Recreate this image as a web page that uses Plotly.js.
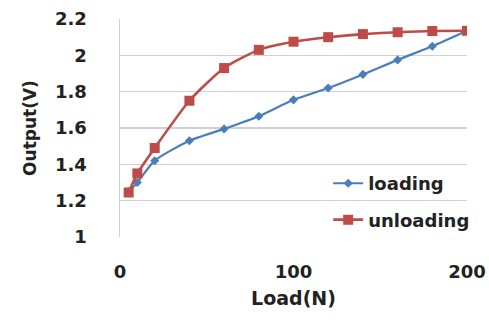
<!DOCTYPE html>
<html>
<head>
<meta charset="utf-8">
<script src="https://cdn.plot.ly/plotly-3.0.1.min.js"></script>
<style>html,body{margin:0;padding:0;background:#fff;}#chart{width:489px;height:320px;}</style>
</head>
<body>
<div id="chart"></div>
<script>
const load = [5, 10, 20, 40, 60, 80, 100, 120, 140, 160, 180, 200];
const loading = [1.25, 1.30, 1.42, 1.53, 1.595, 1.665, 1.755, 1.82, 1.895, 1.975, 2.05, 2.135];
const unloading = [1.245, 1.35, 1.49, 1.75, 1.93, 2.03, 2.075, 2.10, 2.117, 2.127, 2.134, 2.135];
const xTicks = [0, 100, 200];
const yTicks = [1, 1.2, 1.4, 1.6, 1.8, 2, 2.2];
const yTickText = ['1', '1.2', '1.4', '1.6', '1.8', '2', '2.2'];

const bold = (s) => ({family: 'DejaVu Sans', size: s, color: '#222', weight: 'bold'});

const traces = [
  {x: load, y: loading, name: 'loading', type: 'scatter', mode: 'lines+markers',
   legendgroup: 'a',
   line: {color: '#4A7EBB', width: 2.2, shape: 'spline', smoothing: 0.6},
   marker: {symbol: 'diamond', size: 7, color: '#4A7EBB'}},
  {x: load, y: unloading, name: 'unloading', type: 'scatter', mode: 'lines+markers',
   legendgroup: 'b',
   line: {color: '#BE4B48', width: 2.6, shape: 'spline', smoothing: 0.6},
   marker: {symbol: 'square', size: 10, color: '#BE4B48'}}
];

const layout = {
  width: 489, height: 320,
  margin: {l: 120, r: 22, t: 19, b: 83},
  paper_bgcolor: '#fff', plot_bgcolor: '#fff',
  font: bold(18),
  showlegend: true,
  legend: {x: 0.6, y: 0.33, xanchor: 'left', yanchor: 'top', bgcolor: 'rgba(0,0,0,0)',
           font: bold(18), tracegroupgap: 10, traceorder: 'grouped'},
  xaxis: {range: [0, 200], tickvals: xTicks, ticktext: xTicks.map(String), showgrid: false,
          zeroline: false, showline: false, ticks: '', ticklabelstandoff: 22,
          tickfont: bold(18),
          title: {text: 'Load(N)', standoff: 10, font: bold(19)}},
  yaxis: {range: [1, 2.2], tickvals: yTicks, ticktext: yTickText, showgrid: true, gridcolor: '#d0d0d0', gridwidth: 1.5,
          zeroline: false, showline: true, linecolor: '#d0d0d0', linewidth: 1.5, ticks: '', ticklabelstandoff: 28,
          tickfont: bold(18),
          title: {text: 'Output(V)', standoff: 14, font: bold(17)}}
};

Plotly.newPlot('chart', traces, layout, {displayModeBar: false, staticPlot: true});
</script>
</body>
</html>
